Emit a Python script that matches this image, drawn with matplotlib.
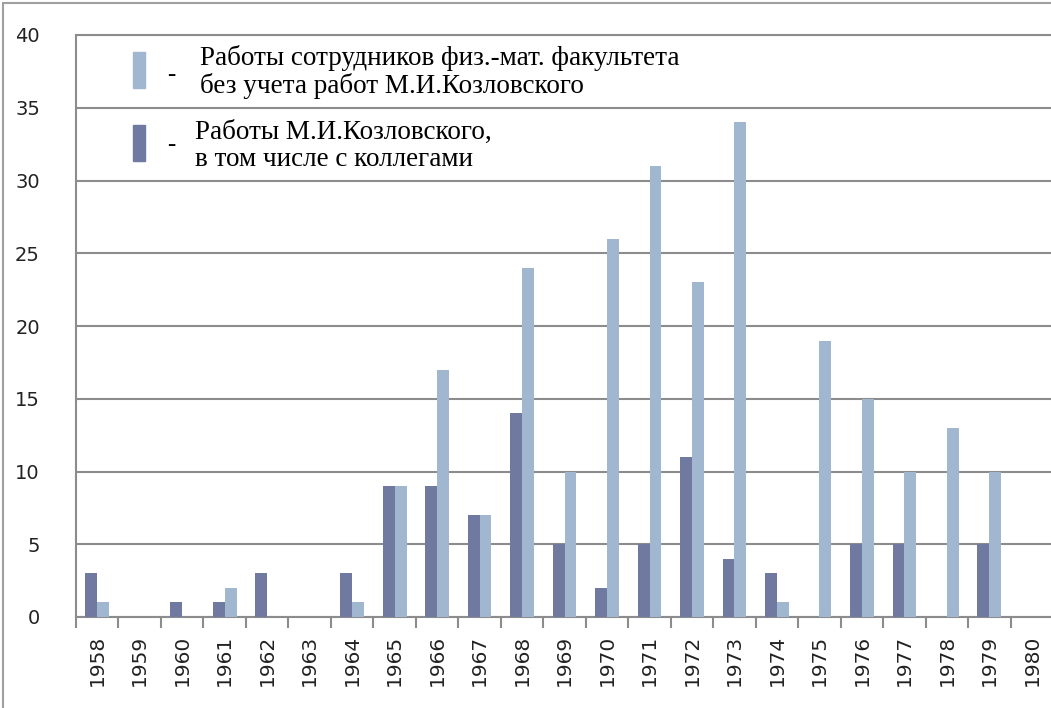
import numpy as np
import matplotlib.pyplot as plt
from matplotlib.patches import Rectangle

years = [str(y) for y in range(1958, 1981)]
kozlovsky = [3, 0, 1, 1, 3, 0, 3, 9, 9, 7, 14, 5, 2, 5, 11, 4, 3, 0, 5, 5, 0, 5, 0]
faculty = [1, 0, 0, 2, 0, 0, 1, 9, 17, 7, 24, 10, 26, 31, 23, 34, 1, 19, 15, 10, 13, 10, 0]
legend_faculty = 'Работы сотрудников физ.-мат. факультета\nбез учета работ М.И.Козловского'
legend_koz = 'Работы М.И.Козловского,\nв том числе с коллегами'

dark = '#7079a0'
light = '#a0b7cf'
gray = '#8c8c8c'

fig = plt.figure(figsize=(10.51, 7.08), dpi=100)
ax = fig.add_axes([76 / 1051, 1 - 617 / 708, 1.002 - 76 / 1051, (617 - 35) / 708])

x = np.arange(len(years))
w = 0.28
ax.bar(x - w / 2, kozlovsky, width=w, color=dark, zorder=3)
ax.bar(x + w / 2, faculty, width=w, color=light, zorder=3)

ax.set_xlim(-0.5, len(years) - 0.5)
ax.set_ylim(0, 40)
ax.set_yticks(range(0, 41, 5))
ax.yaxis.grid(True, color=gray, linewidth=1.5, zorder=0)
ax.tick_params(axis='y', length=0, pad=26, labelsize=14, labelcolor='#222222')

ax.set_xticks(x)
ax.set_xticklabels(years, rotation=90, fontsize=14.5, color='#222222')
ax.set_xticks(np.arange(-0.5, len(years)), minor=True)
ax.tick_params(axis='x', which='major', length=0, pad=13)
ax.tick_params(axis='x', which='minor', length=8, width=1.5, color=gray, direction='out')

for s in ['left', 'top', 'bottom']:
    ax.spines[s].set_color(gray)
    ax.spines[s].set_linewidth(1.5)
ax.spines['right'].set_visible(False)

# legend drawn by hand, like in the original
fig.add_artist(Rectangle((133 / 1051, 1 - 88 / 708), 12 / 1051, 36 / 708,
                         transform=fig.transFigure, color=light))
fig.add_artist(Rectangle((133 / 1051, 1 - 161 / 708), 12 / 1051, 36 / 708,
                         transform=fig.transFigure, color=dark))
fig.text(167 / 1051, 1 - 75 / 708, '-', fontsize=18, family='Liberation Serif', va='center')
fig.text(167 / 1051, 1 - 145 / 708, '-', fontsize=18, family='Liberation Serif', va='center')
fig.text(200 / 1051, 1 - 72 / 708, legend_faculty, fontsize=19.5, family='Liberation Serif',
         va='center', linespacing=1.1)
fig.text(195 / 1051, 1 - 146 / 708, legend_koz, fontsize=19.5, family='Liberation Serif',
         va='center', linespacing=1.1)

# outer frame
fig.add_artist(Rectangle((3 / 1051, -0.1), 1.1, 1.1 - 3 / 708, transform=fig.transFigure,
                         fill=False, edgecolor='#a0a0a0', linewidth=1.5))

fig.savefig('out.png', dpi=100)
